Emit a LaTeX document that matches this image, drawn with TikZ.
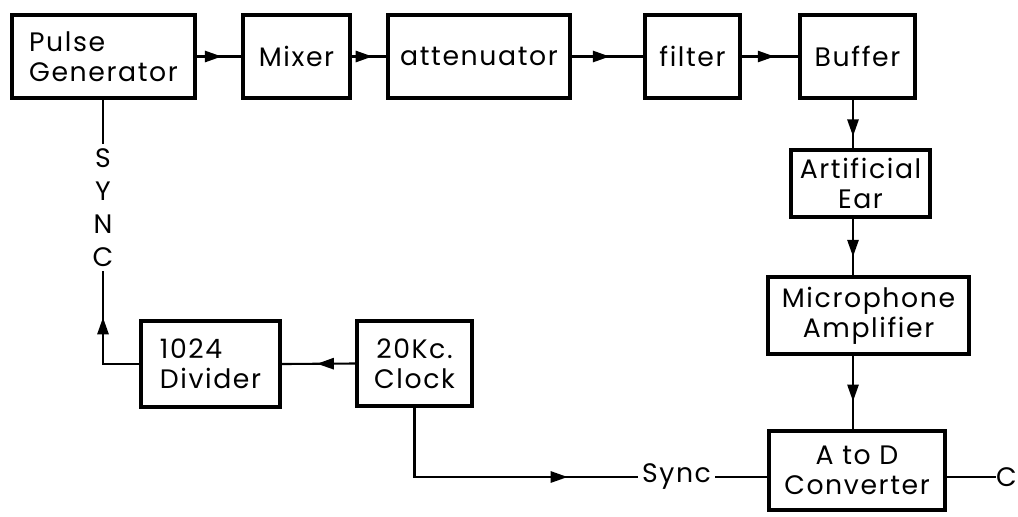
\documentclass[tikz,border=0pt]{standalone}
\usepackage{fontspec}
\setmainfont{Poppins}[LetterSpace=6]
\usetikzlibrary{arrows.meta,decorations.markings}

\tikzset{
  block/.style={draw, line width=2.2pt, inner sep=0pt, align=center,
    font=\fontsize{19}{21.5}\selectfont},
  wire/.style={line width=1.5pt},
  flow/.style={wire, postaction={decorate, decoration={markings,
    mark=at position #1 with {\arrow{Triangle[length=0.42cm,width=0.28cm]}}}}},
  lbl/.style={font=\fontsize{19}{21.5}\selectfont, inner sep=0.1cm}
}

\begin{document}
\begin{tikzpicture}[x=0.025cm, y=-0.025cm]
  \useasboundingbox (0,0) rectangle (1018,516);
  % signal chain, top row
  \node[block, align=left, minimum width=4.575cm, minimum height=2.075cm] (pulse) at (103.5,56.5) {Pulse\\Generator};
  \node[block, minimum width=2.675cm, minimum height=2.075cm] (mixer) at (296.5,56.5) {Mixer};
  \node[block, minimum width=4.55cm, minimum height=2.075cm] (atten) at (479,56.5) {attenuator};
  \node[block, minimum width=2.375cm, minimum height=2.075cm] (filter) at (692.5,56.5) {filter};
  \node[block, minimum width=2.875cm, minimum height=2.075cm] (buffer) at (857.5,56.5) {Buffer};
  % right column
  \node[block, minimum width=3.475cm, minimum height=1.675cm] (ear) at (860.5,183.5) {Artificial\\Ear};
  \node[block, minimum width=5.025cm, minimum height=1.925cm] (micamp) at (868.5,315.5) {Microphone\\Amplifier};
  \node[block, minimum width=4.4cm, minimum height=1.975cm] (adc) at (857,470.5) {A to D\\Converter};
  % clock and divider
  \node[block, minimum width=2.875cm, minimum height=2.125cm] (clock) at (414.5,363.5) {20Kc.\\Clock};
  \node[block, align=left, minimum width=3.475cm, minimum height=2.15cm] (divider) at (210.5,364) {1024\\Divider};
  % labels
  \node[align=center, inner xsep=0pt, inner ysep=0.1cm, font=\fontsize{19}{23.5}\selectfont] (sync) at (103,207.5) {S\\Y\\N\\C};
  \node[lbl] (synclbl) at (676.5,477) {Sync};
  \node[lbl, anchor=east, inner sep=0pt] (out) at (1017,477) {C};
  \coordinate (spine) at (853,0);

  % connectors
  \draw[flow=0.56] (pulse.east) -- (mixer.west);
  \draw[flow=0.6] (mixer.east) -- (atten.west);
  \draw[flow=0.53] (atten.east) -- (filter.west);
  \draw[flow=0.58] (filter.east) -- (buffer.west);
  \draw[flow=0.75] (buffer.south -| spine) -- (ear.north -| spine);
  \draw[flow=0.67] (ear.south -| spine) -- (micamp.north -| spine);
  \draw[flow=0.62] (micamp.south -| spine) -- (adc.north -| spine);
  \draw[flow=0.52] (clock.west) -- (divider.east);
  \draw[flow=0.64] (divider.west) -| (sync.south);
  \draw[wire] (sync.north |- pulse.south) -- (sync.north);
  \draw[flow=0.76] (clock.south) |- (synclbl.west);
  \draw[wire] (synclbl.east) -- (adc.west |- synclbl.east);
  \draw[wire] (adc.east |- out.west) -- (out.west);
\end{tikzpicture}
\end{document}
